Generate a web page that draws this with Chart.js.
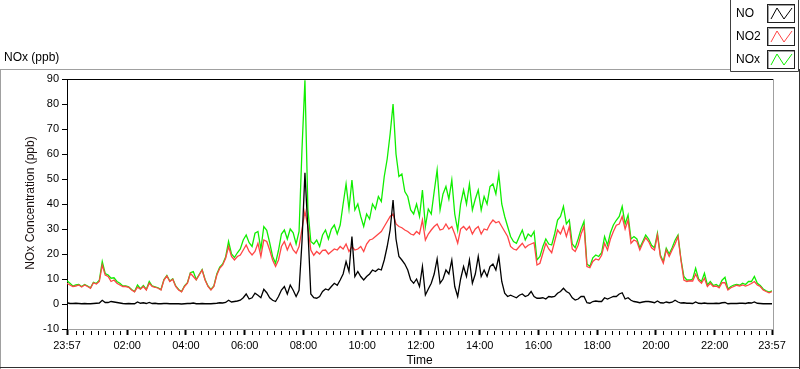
<!DOCTYPE html>
<html>
<head>
<meta charset="utf-8">
<script src="https://cdn.jsdelivr.net/npm/chart.js@4.4.1/dist/chart.umd.min.js"></script>
<style>
html,body{margin:0;padding:0;background:#fff;}
canvas{display:block;}
</style>
</head>
<body>
<canvas id="c" width="800" height="369" style="width:800px;height:369px"></canvas>
<script>
// ---- data (6-minute samples starting at 23:57) ----
const STEP_MIN = 6;
const seriesNames = ['NO', 'NO2', 'NOx'];
const seriesColors = ['#000000', '#ff4545', '#10ee00'];

const NO = [
0.5,0.2,0.2,0.3,0.2,0.1,0.2,0.1,0.1,0.2,0.3,0.4,1.5,0.6,0.6,1.0,0.8,0.6,0.4,0.2,
0.1,0.2,0.1,0.1,0.8,0.3,0.5,0.2,0.6,0.2,0.3,0.1,0.1,0.2,0.2,0.1,0.1,0.1,0.1,0.0,
0.1,0.2,0.2,0.4,0.1,0.1,0.2,0.1,0.1,0.1,0.2,0.3,0.5,0.4,0.6,1.5,0.8,1.0,1.2,1.5,
2.5,4.0,2.0,2.5,4.3,3.5,2.5,5.9,4.5,2.5,1.5,1.0,3.0,5.6,7.0,4.0,7.6,5.5,3.0,5.5,
25,52.5,30,4,2.5,2.3,3,5,6,5.6,7,8.3,7.5,9.6,12,17,13,27,11,13,
11,9.6,11,12,13.6,13,14,13.6,17.6,23,29.6,41.6,26,19,17.6,16,13.6,9.6,8.3,10,
7,15,3.6,6,8.3,12,18,8.3,10,13.6,12,17.6,7,3,10,15,11,17.6,8.3,12,
19,11,13.6,11,15,16,13.6,19,9,4.3,3,3.5,3,2.5,3.5,4,3,3.5,5,3,
2.3,2.3,2.5,2.0,3,2.8,3,4.3,5,6.3,5,4.3,2.5,1.6,2,3,3,0.5,0.3,1,
1.2,1,1,2.5,2,2.5,3,3,4,4.5,2,2.5,1.5,1,0.8,0.5,0.8,1,1,0.8,
0.5,1.2,0.5,0.4,0.8,0.5,0.7,1.5,0.8,0.4,0.5,0.3,0.3,0.2,0.8,0.3,0.2,0.4,0.2,0.2,
0.2,0.3,0.2,0.5,0.6,0.1,0.2,0.2,0.2,0.3,0.3,0.2,0.5,0.4,0.8,0.3,0.2,0.1,0.1,0.1,
0.1
];

const NO2 = [
8.3,7.6,7.0,7.2,7.6,6.8,7.6,7.0,6.3,8.5,8.0,9.0,15.6,11.6,11.0,9.0,9.6,8.3,7.6,7.0,
7.0,6.7,5.6,4.9,6.7,5.9,7.0,5.6,8.3,7.0,6.7,6.3,5.6,9.6,11.2,9.0,9.9,7.0,5.6,4.9,
7.0,8.3,12.3,11.0,9.6,11.6,13.6,9.6,7.0,5.6,7.0,11.6,14.3,15.6,18.3,23.0,19.0,17.6,19.0,19.6,
21.6,23.6,21.0,19.6,21.0,24.3,19.0,25.6,25.0,21.6,17.6,15.0,17.6,23.0,25.0,21.6,24.3,21.6,20.3,23.0,
30,37,31,21.6,19.5,21,20,21.5,21.6,20,21,22,21.6,23,22,24,21,23,21.6,22,
23,21,24,25.6,26,27,28,29,31,33,35,36,32,31,30.5,29.6,29,28,27.6,29,
28,33.6,25.6,28,29.6,31,32,29.6,30,32,30,31,28,24.3,30,31,29.6,31,28,30,
31,28,30,29.6,32,33.6,32.5,33,31,29,27,23,22,21.6,23,24.3,22.5,23.5,24,24.5,
15.6,16.3,20.3,24.3,22,20.5,25,29.6,28,31,27,31,22,21,23.5,28,31,15,14.5,17,
18,17.6,19.5,24.3,21.6,26,29,31.5,32,35,30,33.6,24.3,25.6,25,21.6,24.3,26.5,25,22.5,
21.6,27.6,19,16.3,21.6,19,21.6,24,27,17.6,9.6,9,9.3,9.2,12,9.5,8.3,10.3,7,8.3,
7,7.2,6.5,8.5,8.5,5.6,6.5,7,7.5,7.2,7.6,7.2,7.6,8.2,9,7.6,7,5.6,5,4.5,
5
];

const NOx = [
9.3,8.3,7.2,7.6,7.8,7.0,7.8,7.2,6.5,8.7,8.2,9.5,17.0,12.2,11.6,10.3,10.5,9.0,8.3,7.2,
7.2,6.9,5.8,5.0,7.6,6.1,7.4,5.8,9.0,7.2,6.9,6.5,5.8,9.8,11.4,9.2,10.1,7.2,5.8,5.0,
7.2,8.5,12.5,13.0,9.8,11.8,13.8,9.8,7.2,5.8,7.2,12.0,14.8,16.0,18.8,25.0,20.0,18.6,20.5,22.0,
25.6,27.6,24.5,23.0,28.3,29.0,22.0,31.0,29.5,24.5,19.0,16.3,21.5,28.0,29.6,26.0,30.0,28.5,24.0,29.0,
62,89.5,38,25,24,25.6,23,27.6,29.6,26,30,31.6,28,31.6,40,48,38,49.6,37.6,40,
35,31,36,34,40,38,43,41,51,58,68,80,60,51,52,45,43,37.6,36,40,
35,45.6,31,38,36,45,53.6,37.6,44,47,42,49.6,36,29.6,40,45.6,40,48,37.6,42,
45.6,37.6,43,40,47,48,44,52,40,35,31,27,25,24.3,27,29.6,25.6,28,27,29,
17.6,19,23,26,24,23.6,28,33.6,35,39,32,33.6,24,22.5,26,30,33,16,15,18.5,
19.6,19,20.5,27,23.5,28.5,31.6,33.5,35,39,32,35.6,26,27,26,22.5,25,27.6,26,23.5,
22.5,28.3,19.6,17,22.3,20,22.5,25.5,27.6,18,11,9.6,9.6,10,14.3,10,9,12.3,7.6,9,
7.4,7.8,7,9.5,10.7,6,7,7.6,7.8,7.5,8.3,7.8,9,9,11,8.3,7.4,6,5.3,4.8,
5.3
];

// ---- axis ticks ----
const xTickMinutes = [0, 123, 243, 363, 483, 603, 723, 843, 963, 1083, 1203, 1323, 1440];
const xTickLabels = ['23:57','02:00','04:00','06:00','08:00','10:00','12:00','14:00','16:00','18:00','20:00','22:00','23:57'];
const yTickValues = [-10, 0, 10, 20, 30, 40, 50, 60, 70, 80, 90];

const chartTitle = 'NOx (ppb)';
const yTitle = 'NOx Concentration (ppb)';
const xTitle = 'Time';

const FONT = "'Liberation Sans', Arial, sans-serif";

function toPoints(arr){ return arr.map((v,i)=>({x:i*STEP_MIN, y:v})); }

const decor = {
  id: 'decor',
  beforeDraw(chart){
    const ctx = chart.ctx;
    ctx.save();
    ctx.fillStyle = '#fff';
    ctx.fillRect(0,0,chart.width,chart.height);
    ctx.restore();
  },
  afterDraw(chart){
    const ctx = chart.ctx;
    const a = chart.chartArea;
    const xs = chart.scales.x;
    ctx.save();
    // outer panel frame
    ctx.lineWidth = 1;
    ctx.strokeStyle = '#a0a0a0';
    ctx.beginPath();
    ctx.moveTo(0, 69.5); ctx.lineTo(800, 69.5);
    ctx.moveTo(0.5, 69); ctx.lineTo(0.5, 369);
    ctx.stroke();
    ctx.strokeStyle = '#303030';
    ctx.beginPath();
    ctx.moveTo(799.5, 69); ctx.lineTo(799.5, 369);
    ctx.moveTo(0, 367.5); ctx.lineTo(800, 367.5);
    ctx.stroke();

    // plot frame
    ctx.strokeStyle = '#000';
    ctx.beginPath();
    ctx.moveTo(a.left, Math.round(a.top)+0.5); ctx.lineTo(a.right+1, Math.round(a.top)+0.5);
    ctx.moveTo(Math.round(a.left)+0.5, a.bottom); ctx.lineTo(Math.round(a.left)+0.5, a.bottom+4);
    ctx.stroke();
    ctx.strokeStyle = '#a0a0a0';
    ctx.beginPath();
    ctx.moveTo(Math.round(a.right)+1.5, a.top); ctx.lineTo(Math.round(a.right)+1.5, a.bottom+1);
    ctx.moveTo(a.left+1, Math.round(a.bottom)+0.5); ctx.lineTo(a.right+2, Math.round(a.bottom)+0.5);
    ctx.stroke();

    // minor x ticks every 15 min (clock aligned)
    ctx.strokeStyle = '#000';
    ctx.beginPath();
    for (let m = 18; m < 1440; m += 15) {
      if ((m - 3) % 120 === 0) continue;
      const px = Math.round(xs.getPixelForValue(m)) + 0.5;
      ctx.moveTo(px, a.bottom + 2); ctx.lineTo(px, a.bottom + 6);
    }
    ctx.stroke();

    // texts
    ctx.fillStyle = '#000';
    ctx.font = '12px ' + FONT;
    ctx.textBaseline = 'middle';
    ctx.textAlign = 'left';
    ctx.fillText(chartTitle, 4, 58);
    ctx.textAlign = 'center';
    ctx.fillText(xTitle, (a.left + a.right)/2, 361);
    ctx.save();
    ctx.translate(31, (a.top + a.bottom)/2 - 1);
    ctx.rotate(-Math.PI/2);
    ctx.fillStyle = '#1a1010';
    ctx.fillText(yTitle, 0, 0);
    ctx.restore();

    // legend
    ctx.fillStyle = '#fff';
    ctx.fillRect(730, 0, 69, 71);
    ctx.strokeStyle = '#404040';
    ctx.beginPath();
    ctx.moveTo(730.5, 0); ctx.lineTo(730.5, 71.5); ctx.lineTo(798.5, 71.5); ctx.lineTo(798.5, 0);
    ctx.stroke();
    const ys = [13, 36, 59];
    chart.data.datasets.forEach((ds, i) => {
      const cy = ys[i];
      ctx.fillStyle = '#000';
      ctx.textAlign = 'left';
      ctx.textBaseline = 'middle';
      ctx.font = '12px ' + FONT;
      ctx.fillText(ds.label, 736, cy + 1);
      const x0 = 767, y0 = cy - 9;
      ctx.fillStyle = '#fff';
      ctx.fillRect(x0, y0, 28, 19);
      ctx.strokeStyle = '#202020';
      ctx.strokeRect(x0 + 0.5, y0 + 0.5, 27, 18);
      ctx.strokeStyle = '#a0a0a0';
      ctx.beginPath();
      ctx.moveTo(x0 + 1.5, y0 + 18); ctx.lineTo(x0 + 1.5, y0 + 1.5); ctx.lineTo(x0 + 27, y0 + 1.5);
      ctx.stroke();
      ctx.strokeStyle = ds.borderColor;
      ctx.lineWidth = 1;
      ctx.beginPath();
      ctx.moveTo(x0 + 4, y0 + 15);
      ctx.lineTo(x0 + 10, y0 + 4);
      ctx.lineTo(x0 + 17, y0 + 15);
      ctx.lineTo(x0 + 25, y0 + 4);
      ctx.stroke();
    });
    ctx.restore();
  }
};

new Chart(document.getElementById('c'), {
  type: 'line',
  data: {
    datasets: [
      { label: seriesNames[0], data: toPoints(NO),  borderColor: seriesColors[0], borderWidth: 1.3, pointRadius: 0, tension: 0, order: 0 },
      { label: seriesNames[1], data: toPoints(NO2), borderColor: seriesColors[1], borderWidth: 1.3, pointRadius: 0, tension: 0, order: 1 },
      { label: seriesNames[2], data: toPoints(NOx), borderColor: seriesColors[2], borderWidth: 1.3, pointRadius: 0, tension: 0, order: 2 }
    ]
  },
  options: {
    responsive: false,
    animation: false,
    devicePixelRatio: 1,
    layout: { padding: { left: 0, right: 28, top: 79, bottom: 0 } },
    plugins: { legend: { display: false }, tooltip: { enabled: false }, title: { display: false } },
    scales: {
      x: {
        type: 'linear', min: 0, max: 1440,
        afterBuildTicks: s => { s.ticks = xTickMinutes.map(v => ({ value: v })); },
        afterFit: s => { s.height = 40; },
        ticks: {
          autoSkip: false, maxRotation: 0, minRotation: 0, padding: 4,
          color: '#000', font: { family: FONT, size: 11 },
          callback: (v, i) => xTickLabels[i]
        },
        grid: { drawOnChartArea: false, drawTicks: true, tickLength: 6, tickWidth: 2, tickColor: '#000' },
        border: { display: false }
      },
      y: {
        type: 'linear', min: -10, max: 90,
        afterBuildTicks: s => { s.ticks = yTickValues.map(v => ({ value: v })); },
        afterFit: s => { s.width = 67; },
        ticks: { padding: 3, color: '#000', font: { family: FONT, size: 11 } },
        grid: { drawOnChartArea: false, drawTicks: true, tickLength: 5, tickColor: '#000' },
        border: { display: true, color: '#000', width: 1 }
      }
    }
  },
  plugins: [decor]
});
</script>
</body>
</html>
